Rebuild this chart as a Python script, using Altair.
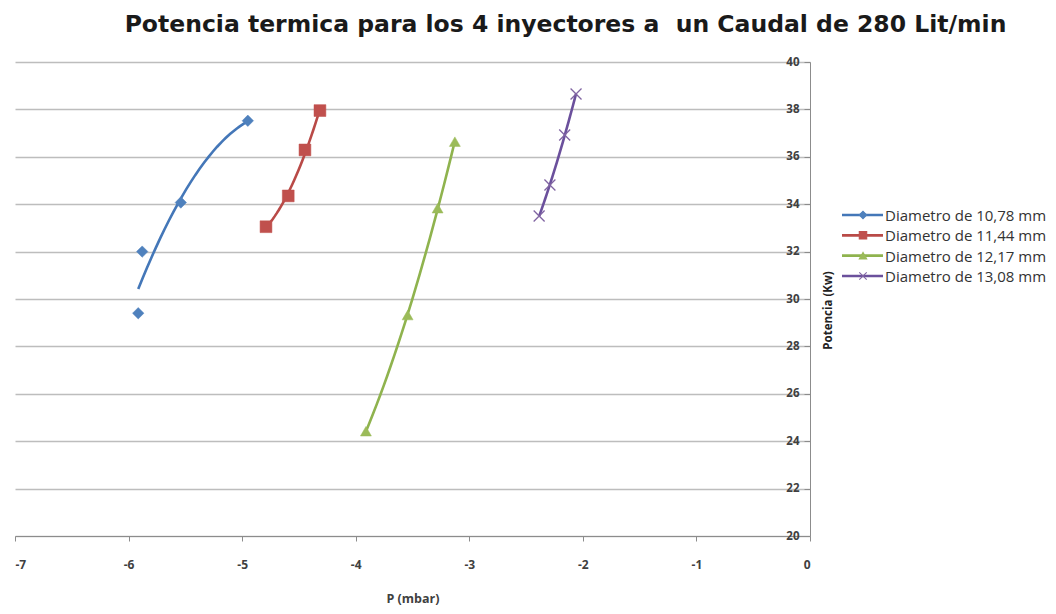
import altair as alt
import pandas as pd

series = ["Diametro de 10,78 mm", "Diametro de 11,44 mm",
          "Diametro de 12,17 mm", "Diametro de 13,08 mm"]

p_1078 = [-5.915, -5.88, -5.54, -4.95]
pot_1078 = [29.4, 32.0, 34.07, 37.52]

p_1144 = [-4.79, -4.594, -4.447, -4.315]
pot_1144 = [33.05, 34.35, 36.29, 37.95]

p_1217 = [-3.91, -3.543, -3.279, -3.127]
pot_1217 = [24.42, 29.32, 33.83, 36.64]

p_1308 = [-2.385, -2.29, -2.16, -2.06]
pot_1308 = [33.5, 34.81, 36.92, 38.65]

x_ticks = [-7, -6, -5, -4, -3, -2, -1, 0]
y_ticks = [20, 22, 24, 26, 28, 30, 32, 34, 36, 38, 40]

colors = ["#4F81BD", "#C0504D", "#9BBB59", "#8064A2"]
line_colors = ["#4477B8", "#B94A47", "#8FB34E", "#6B509C"]
marker_shapes = ["diamond", "square", "triangle-up", "M-1,-1L1,1M-1,1L1,-1"]
marker_sizes = [130, 140, 120, 120]

rows = []
for name, ps, ks in zip(series, [p_1078, p_1144, p_1217, p_1308],
                        [pot_1078, pot_1144, pot_1217, pot_1308]):
    for p, k in zip(ps, ks):
        rows.append({"serie": name, "P": p, "Pot": k})
df = pd.DataFrame(rows)
leg_df = pd.DataFrame({"serie": series})

FONT = "Open Sans"

x_enc = alt.X(
    "P:Q",
    scale=alt.Scale(domain=[-7, 0], nice=False),
    axis=alt.Axis(
        values=x_ticks, grid=False, domainColor="#8c8c8c", tickColor="#8c8c8c",
        tickSize=5, labelPadding=18, labelFontSize=12, labelFont=FONT,
        labelColor="#404040", labelFontWeight="bold", labelExpr="'' + datum.value",
        title="P (mbar)", titleFont=FONT, titleFontSize=12.5, titleFontWeight="bold",
        titleColor="#404040", titlePadding=22,
    ),
)
y_enc = alt.Y(
    "Pot:Q",
    scale=alt.Scale(domain=[20, 40], nice=False),
    axis=alt.Axis(
        orient="left", offset=-795, values=y_ticks, grid=True,
        gridColor="#bdbdbd", gridWidth=1.3, domainColor="#8c8c8c",
        tickColor="#8c8c8c", tickSize=6, labelPadding=5, labelFontSize=11.5,
        labelFont=FONT, labelColor="#404040", labelFontWeight="bold",
        title="Potencia (Kw)", titleFont=FONT, titleFontSize=11.5,
        titleFontWeight="bold", titleColor="#222222", titleX=18, titleY=248,
        titleAngle=270, titleBaseline="middle",
    ),
)

color_scale = alt.Scale(domain=series, range=line_colors)

base = alt.Chart(df)

lines = base.transform_regression(
    "P", "Pot", groupby=["serie"], method="poly", order=2
).mark_line(strokeWidth=2.6).encode(
    x=x_enc, y=y_enc,
    color=alt.Color("serie:N", scale=color_scale, legend=None),
    detail="serie:N",
)

point_layers = []
for name, col, shp, sz in zip(series, colors, marker_shapes, marker_sizes):
    point_layers.append(
        base.transform_filter(alt.datum.serie == name).mark_point(
            shape=shp, filled=True, size=sz, opacity=1, fill=col, stroke=col,
            strokeWidth=1.3 if "M" in shp else 0.5,
        ).encode(x=x_enc, y=y_enc)
    )

main = alt.layer(lines, *point_layers)

# legend drawn as guide marks, one row per series
leg_y = alt.Y("serie:N",
              scale=alt.Scale(type="point", domain=series, range=[153, 214], padding=0),
              axis=None)
leg_base = alt.Chart(leg_df)
leg_lines = leg_base.mark_rule(strokeWidth=2.6).encode(
    x=alt.value(827), x2=alt.value(868), y=leg_y,
    color=alt.Color("serie:N", scale=color_scale, legend=None),
)
leg_marks = leg_base.mark_point(filled=True, size=55, opacity=1).encode(
    x=alt.value(848), y=leg_y,
    fill=alt.Fill("serie:N", scale=alt.Scale(domain=series, range=colors), legend=None),
    stroke=alt.Stroke("serie:N", scale=alt.Scale(domain=series, range=colors), legend=None),
    shape=alt.Shape("serie:N", scale=alt.Scale(domain=series, range=marker_shapes),
                    legend=None),
    strokeWidth=alt.value(1.1),
)
leg_text = leg_base.mark_text(
    align="left", baseline="middle", font=FONT, fontSize=15, color="#333333", dy=1,
).encode(x=alt.value(870), y=leg_y, text="serie:N")

legend = alt.layer(leg_lines, leg_marks, leg_text)

chart = alt.layer(main, legend).resolve_scale(y="independent").properties(
    width=795, height=474,
    autosize=alt.AutoSizeParams(type="none"),
    padding={"left": 7, "top": 54, "right": 238, "bottom": 70},
    title=alt.TitleParams(
        "Potencia termica para los 4 inyectores a\u00a0\u00a0un Caudal de 280 Lit/min",
        font="DejaVu Sans", fontSize=23.5, fontWeight="bold", color="#1a1a1a",
        anchor="middle", frame="group", dx=153, offset=20,
    ),
).configure_view(stroke=None)

chart.save("out.html", embed_options={"renderer": "svg", "actions": False})
